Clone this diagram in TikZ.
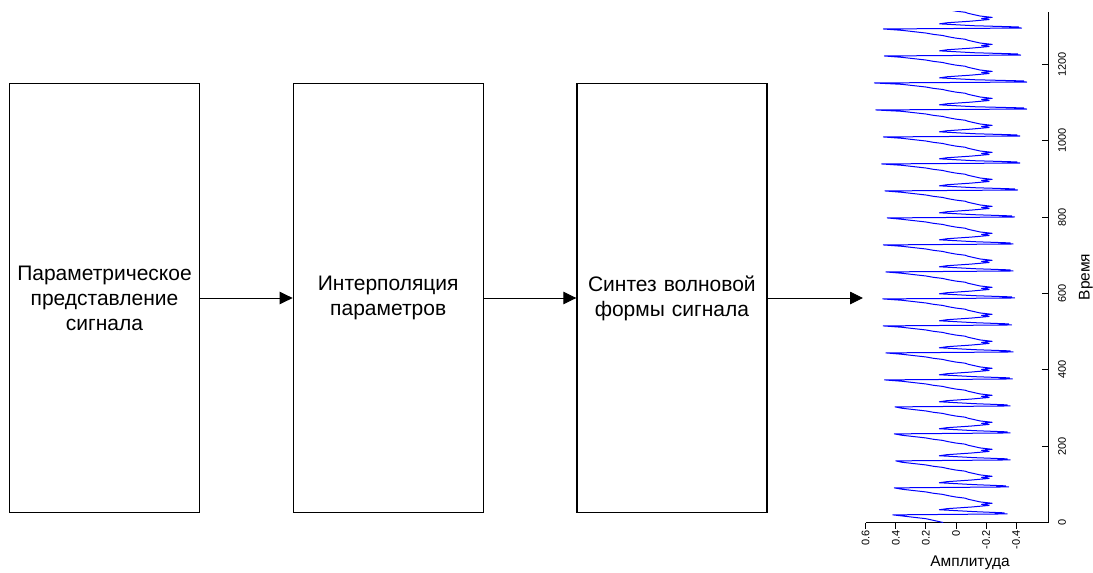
\documentclass[tikz,border=0pt]{standalone}
\usepackage{fontspec}
\setmainfont{Liberation Sans}
\usetikzlibrary{positioning,arrows.meta}

\tikzstyle{blockbox} = [draw, line width=1.2pt, rectangle, minimum width=188pt, minimum height=429pt, inner sep=4pt, text width=182pt, align=center, font=\fontsize{21}{25}\selectfont]
\tikzstyle{flow} = [line width=0.9pt, -{Triangle[length=13pt,width=12.5pt]}]
\tikzstyle{wave} = [draw={rgb,255:red,0;green,0;blue,255}, line width=1pt, line join=round]
\tikzstyle{axisline} = [line width=1pt]
\tikzstyle{ticklabel} = [font=\fontsize{11}{13}\selectfont, inner sep=1pt]
\tikzstyle{axistitle} = [font=\fontsize{15.5}{18}\selectfont, inner sep=0pt]

\begin{document}
\begin{tikzpicture}[x=1pt, y=-1pt]
	\useasboundingbox (0,0) rectangle (1093,573);

	% blocks of the chain
	\node[blockbox](param) at (104.5,298) {Параметрическое представление сигнала};
	\node[blockbox, right=92.5pt of param](interp) {Интерполяция параметров};
	\node[blockbox, right=92.5pt of interp](synth) {Синтез волновой формы сигнала};
	\coordinate (wavein) at (863,298);

	\draw[flow] (param) -- (interp);
	\draw[flow] (interp) -- (synth);
	\draw[flow] (synth) -- (wavein);

	% axes of the waveform plot
	\draw[axisline] (1048,12) -- (1048,522.5) -- (866,522.5);
	\foreach \t in {0,200,...,1200}{
		\draw[axisline] (1048,{522.5-0.3818*\t}) -- ++(-6,0);
		\node[ticklabel, rotate=90] at (1062,{522.5-0.3818*\t}) {\t};
	}
	\foreach \a in {0.6,0.4,0.2,0,-0.2,-0.4}{
		\draw[axisline] ({956-150.5*\a},522.5) -- ++(0,6);
		\node[ticklabel, rotate=90, anchor=east] at ({956-150.5*\a},529) {\a};
	}
	\node[axistitle, rotate=90] (time) at (1086,277) {Время};
	\node[axistitle] (amp) at (970,563) {Амплитуда};

	% signal, one pitch period after another
	\begin{scope}
		\clip (850,11.5) rectangle (1045,523);
		\draw[wave] ({956-150.5*0.085},522.5) -- ({956-150.5*0.2},{522.5-0.3818*10})
			\foreach \k/\pk/\nk in {0/0.42/0.34, 1/0.41/0.35, 2/0.40/0.36, 3/0.41/0.36, 4/0.405/0.36,
				5/0.475/0.375, 6/0.466/0.38, 7/0.484/0.37, 8/0.487/0.39, 9/0.466/0.38,
				10/0.483/0.38, 11/0.457/0.39, 12/0.472/0.41, 13/0.494/0.425, 14/0.483/0.425,
				15/0.533/0.47, 16/0.542/0.47, 17/0.476/0.43, 18/0.483/0.436}{
				\foreach \ph/\v in {0/\pk, 0.035/-\nk, 0.055/-\nk+0.08, 0.075/-\nk+0.02, 0.12/-0.12,
					0.19/0.11, 0.23/0.06, 0.29/-0.10, 0.35/-0.22, 0.39/-0.17, 0.43/-0.24, 0.48/-0.16,
					0.53/-0.12, 0.58/-0.08, 0.62/-0.06, 0.66/0.0, 0.71/0.05, 0.76/0.09, 0.8/0.15,
					0.85/0.2, 0.9/0.28, 0.95/0.36}{
					-- ({956-150.5*(\v)},{522.5-0.3818*(20+70.7*(\k+\ph))})
				}
			};
	\end{scope}
\end{tikzpicture}
\end{document}
